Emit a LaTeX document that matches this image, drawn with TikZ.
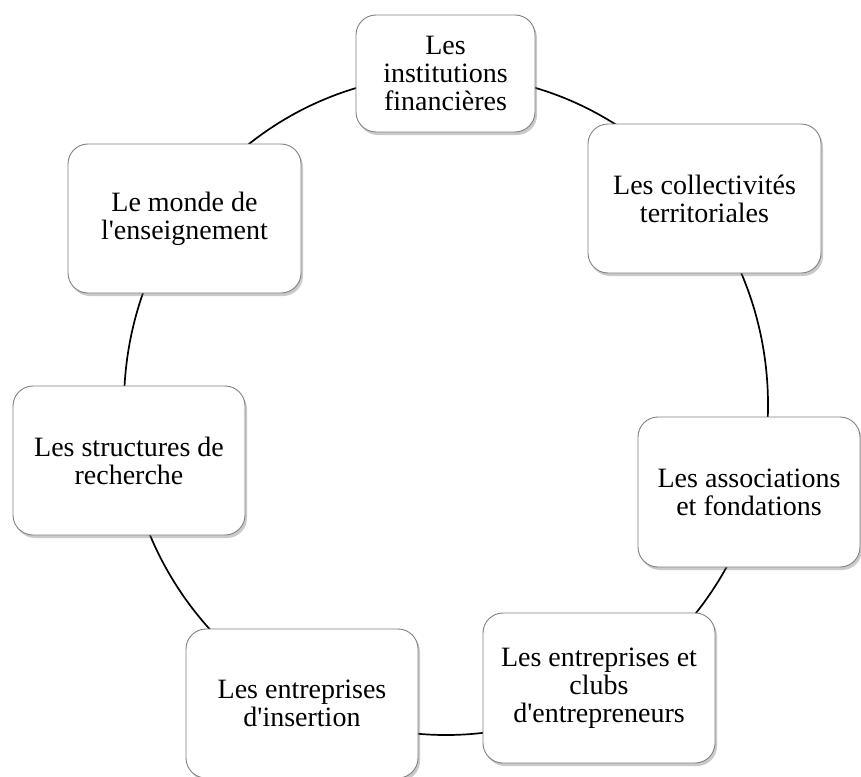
\documentclass[tikz,border=0pt]{standalone}
\usepackage{fontspec}
\setmainfont{Liberation Serif}
\usetikzlibrary{shadows}
\tikzset{
  actor/.style={draw=black!50, line width=0.9pt, fill=white, rounded corners=20pt,
    align=center, inner sep=4pt,
    font=\fontsize{28}{28}\selectfont,
    drop shadow={shadow xshift=2pt, shadow yshift=-3pt, opacity=0.35, fill=black!60}},
  ring/.style={draw=black, line width=1.7pt}
}
\begin{document}
\begin{tikzpicture}[x=1pt,y=-1pt]
\useasboundingbox (0,0) rectangle (861,776);
\coordinate (c) at (446,405);
\draw[ring] (c) ellipse [x radius=322, y radius=330];
\node[actor, minimum width=179pt, minimum height=117pt] (fin) at (445.5,73.5) {Les\\institutions\\financières};
\node[actor, minimum width=233pt, minimum height=149pt] (coll) at (704.5,198.5) {Les collectivités\\territoriales};
\node[actor, minimum width=222pt, minimum height=150pt] (asso) at (749,492) {Les associations\\et fondations};
\node[actor, minimum width=232pt, minimum height=150pt] (entr) at (599,688) {Les entreprises et\\clubs\\d\textquotesingle entrepreneurs};
\node[actor, minimum width=232pt, minimum height=149pt] (ins) at (302,703.5) {Les entreprises\\d\textquotesingle insertion};
\node[actor, minimum width=232pt, minimum height=149pt] (rech) at (129,460.5) {Les structures de\\recherche};
\node[actor, minimum width=233pt, minimum height=149pt] (ens) at (184.5,218.5) {Le monde de\\l\textquotesingle enseignement};
\end{tikzpicture}
\end{document}
